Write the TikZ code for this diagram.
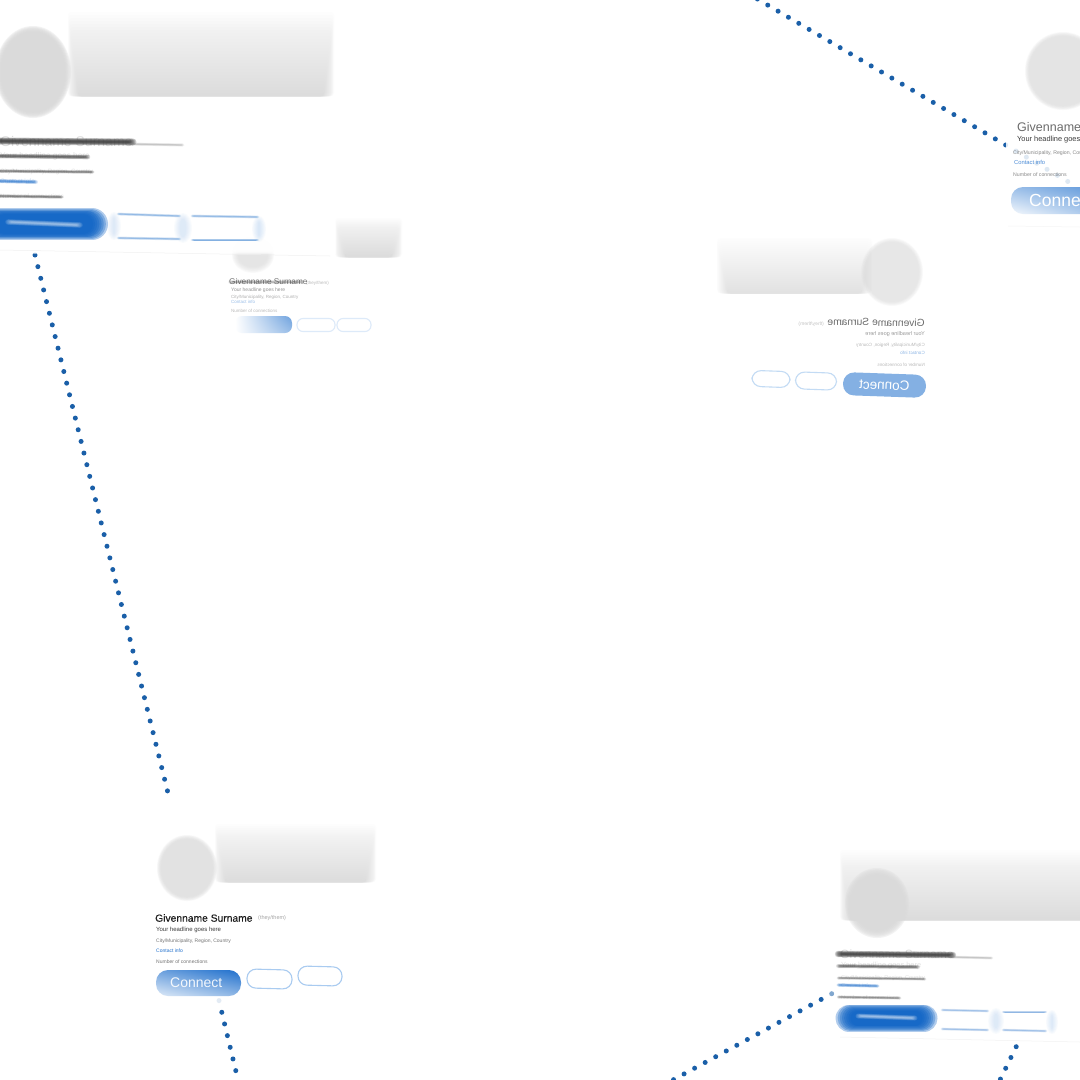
\documentclass[tikz,border=0pt]{standalone}
\usepackage{fontspec}
\usepackage{graphicx}
\usetikzlibrary{shadings}
\setmainfont{Liberation Sans}
\definecolor{dotblue}{HTML}{1A5FA8}
\definecolor{linkblue}{HTML}{1F6FCC}
\definecolor{deepblue}{HTML}{0E63C6}
\definecolor{palegrey}{HTML}{DADADA}
\definecolor{inktext}{HTML}{3A3A3A}
\definecolor{outlineblue}{HTML}{A9CBF0}
\tikzset{
  dotline/.style={line width=5pt,line cap=round,color=dotblue,dash pattern=on 0pt off 12pt},
  outlinebtn/.style={draw=outlineblue,line width=1.1pt,fill=white,rounded corners=9pt,inner sep=0pt},
  flatbtn/.style={fill=#1,rounded corners=11pt,inner sep=0pt,text=white},
  cardtext/.style={anchor=west,inner sep=0pt,text=inktext},
}
\newcommand{\fs}[1]{\fontsize{#1}{#1}\selectfont}
% soft round-capped line: x1 y1 x2 y2 width blur colour layer-opacity
\newcommand{\softline}[8]{%
  \foreach \k in {0,...,7}{%
    \pgfmathsetmacro{\wd}{max(0.2,#5+#6*(1-2*\k/7))}%
    \pgfmathsetmacro{\ins}{#6*(\k/7)*1.5}%
    \draw[line cap=round,line width=\wd pt,color=#7,opacity=#8] (#1+\ins,#2) -- (#3-\ins,#4);
  }}
% soft ellipse: x y rx ry blur colour layer-opacity
\newcommand{\softdisk}[7]{%
  \foreach \k in {0,...,7}{%
    \pgfmathsetmacro{\dd}{#5*(1-2*\k/7)}%
    \fill[color=#6,opacity=#7] (#1,#2) ellipse [x radius=#3+\dd,y radius=#4+\dd];
  }}
% banner: grows denser to a crisp lower edge: x1 y1 x2 y2 colour layer-opacity
\newcommand{\softbanner}[6]{%
  \foreach \k in {0,...,27}{%
    \pgfmathsetmacro{\tp}{#2+(#4-#2)*\k/28}%
    \pgfmathsetmacro{\ix}{\k*0.4}%
    \fill[color=#5,opacity=#6,rounded corners=3pt] (#1+\ix,\tp) rectangle (#3-\ix,#4);
  }}
% faint card body with soft edges: x1 y1 x2 y2 colour layer-opacity
\newcommand{\softcard}[6]{%
  \foreach \k in {0,...,5}{%
    \fill[color=#5,opacity=#6,rounded corners=4pt] (#1-4+\k*1.6,#2-4+\k*1.6) rectangle (#3+4-\k*1.6,#4+4-\k*1.6);
  }}
\begin{document}
\begin{tikzpicture}[x=1pt,y=-1pt]
\useasboundingbox (0,0) rectangle (1080,1080);
\fill[white] (0,0) rectangle (1080,1080);

% connector anchors
\coordinate (l1a) at (35,255);
\coordinate (l1b) at (168,793);
\coordinate (l2a) at (757.4,-1);
\coordinate (l2b) at (1072,184);
\coordinate (l3a) at (219,1000.6);
\coordinate (l3b) at (238.5,1082);
\coordinate (l4a) at (831.7,993.7);
\coordinate (l4b) at (671,1081);
\coordinate (l5a) at (1016.2,1046.7);
\coordinate (l5b) at (999,1082);
\draw[dotline] (l1a) -- (l1b);
\draw[dotline] (l2a) -- (l2b);
\draw[dotline] (l3a) -- (l3b);
\draw[dotline] (l4a) -- (l4b);
\draw[dotline] (l5a) -- (l5b);
% the connector ends melt into the cards
\fill[white,opacity=.88] (l3a) circle (3.4pt);
\fill[white,opacity=.45] (l4a) circle (3.4pt);

% ---- card B (behind A)
\softcard{222}{195}{414}{340}{black}{0.0015}
\softbanner{335}{218}{402}{257}{palegrey}{0.045}
\softdisk{253}{255}{18}{15}{3}{palegrey}{0.12}
\node[cardtext,opacity=.7,font=\fs{8.3}] (bname) at (229,282) {Givenname Surname};
\softline{230}{282}{302}{282}{2.2}{1.4}{inktext}{0.05}
\node[cardtext,opacity=.35,font=\fs{4.5}] (bpro) at (306,283) {(they/them)};
\node[cardtext,opacity=.55,font=\fs{5}] (bhead) at (231,290) {Your headline goes here};
\node[cardtext,opacity=.4,font=\fs{4.5}] (bcity) at (231,297) {City/Municipality, Region, Country};
\node[cardtext,text=linkblue,opacity=.45,font=\fs{4.5}] (binfo) at (231,302) {Contact info};
\node[cardtext,opacity=.35,font=\fs{4.5}] (bconn) at (231,311) {Number of connections};
\shade[rounded corners=7pt,upper left=white,lower left=white,upper right=linkblue!65,lower right=linkblue!45] (235,316) rectangle (292,333);
\node[outlinebtn,draw=outlineblue!40,rounded corners=6pt,minimum width=38pt,minimum height=13pt] (bb1) at (316,325) {};
\node[outlinebtn,draw=outlineblue!40,rounded corners=6pt,minimum width=34pt,minimum height=13pt] (bb2) at (354,325) {};

% ---- card A (top left)
\foreach \k in {0,...,5}{\fill[white,opacity=.55] (-5,0) rectangle (336-\k,254-\k);}
\draw[black!6,line width=.5pt] (0,250) -- (330,256);
\softcard{82}{100}{322}{245}{black}{0.001}
\softbanner{68}{12}{334}{96}{palegrey}{0.043}
\softdisk{33}{72}{35}{43}{3}{palegrey}{0.3}
\node[cardtext,opacity=.18,font=\fs{14}] (aname) at (0,141) {Givenname Surname};
\softline{-4}{141}{133}{142}{4}{3}{inktext}{0.24}
\softline{128}{144}{183}{145}{1.5}{1.5}{gray}{0.08}
\node[cardtext,opacity=.15,font=\fs{8.3}] (ahead) at (0,156) {Your headline goes here};
\softline{-4}{156}{88}{157}{2.6}{2}{inktext}{0.16}
\node[cardtext,opacity=.15,font=\fs{6.2}] (acity) at (0,171.5) {City/Municipality, Region, Country};
\softline{-4}{171}{93}{172}{1.8}{1.6}{inktext}{0.12}
\node[cardtext,text=linkblue,opacity=.2,font=\fs{6.5}] (ainfo) at (0,181.5) {Contact info};
\softline{-4}{181}{36}{182}{2.2}{1.8}{linkblue}{0.15}
\node[cardtext,opacity=.15,font=\fs{6.2}] (aconn) at (0,196.5) {Number of connections};
\softline{-4}{196}{62}{197}{1.8}{1.6}{inktext}{0.12}
\softline{-4}{224}{92}{224}{26}{6}{deepblue}{0.32}
\softline{8}{222}{80}{225}{3}{2.6}{white}{0.1}
\softline{118}{214}{180}{216}{1.3}{1.5}{linkblue}{0.09}
\softline{118}{238}{180}{239}{1.3}{1.5}{linkblue}{0.09}
\softline{192}{216}{258}{217}{1.3}{1.5}{linkblue}{0.09}
\softline{192}{240}{258}{240}{1.3}{1.5}{linkblue}{0.09}
\softdisk{114}{226}{4}{11}{3}{outlineblue}{0.05}
\softdisk{183}{228}{6}{12}{3}{outlineblue}{0.05}
\softdisk{259}{229}{4}{10}{3}{outlineblue}{0.06}

% ---- card C (mirrored, right middle)
\softbanner{717}{238}{872}{293}{palegrey}{0.028}
\softdisk{892}{272}{29}{32}{2}{palegrey}{0.1}
\node[anchor=east,inner sep=0pt,text=inktext,opacity=.75,rotate=-1,font=\fs{10.3}] (cname) at (925,323) {\reflectbox{Givenname Surname}};
\node[anchor=east,inner sep=0pt,text=inktext,opacity=.3,font=\fs{5}] (cpro) at (824,324) {\reflectbox{(they/them)}};
\node[anchor=east,inner sep=0pt,text=inktext,opacity=.5,font=\fs{5.5}] (chead) at (925,334) {\reflectbox{Your headline goes here}};
\node[anchor=east,inner sep=0pt,text=inktext,opacity=.35,font=\fs{4.6}] (ccity) at (925,345) {\reflectbox{City/Municipality, Region, Country}};
\node[anchor=east,inner sep=0pt,text=linkblue,opacity=.5,font=\fs{4.6}] (cinfo) at (925,353) {\reflectbox{Contact info}};
\node[anchor=east,inner sep=0pt,text=inktext,opacity=.35,font=\fs{4.6}] (cconn) at (925,365) {\reflectbox{Number of connections}};
\node[flatbtn=linkblue!55,minimum width=83pt,minimum height=23pt,rotate=-2,font=\fs{13.5}] (cbtn) at (884.5,385) {\reflectbox{Connect}};
\node[outlinebtn,draw=outlineblue!70,minimum width=38pt,minimum height=16pt,rotate=-2] (cb1) at (771,379) {};
\node[outlinebtn,draw=outlineblue!70,minimum width=41pt,minimum height=17pt,rotate=-2] (cb2) at (816,381) {};

% ---- card D (top right)
\fill[white,opacity=.86] (1006,18) rectangle (1080,226);
\draw[black!4,line width=.5pt] (1008,226) -- (1080,227);
\softdisk{1063}{71}{36}{37}{2}{palegrey}{0.13}
\node[cardtext,opacity=.75,font=\fs{12.5}] (dname) at (1017,127) {Givenname Surname};
\node[cardtext,font=\fs{7.4}] (dhead) at (1017,140) {Your headline goes here};
\node[cardtext,opacity=.6,font=\fs{5.2}] (dcity) at (1013,153) {City/Municipality, Region, Country};
\node[cardtext,text=linkblue,opacity=.8,font=\fs{5.8}] (dinfo) at (1014,162) {Contact info};
\node[cardtext,opacity=.6,font=\fs{5.2}] (dconn) at (1013,175) {Number of connections};
\shade[rounded corners=12pt,upper left=linkblue!45,upper right=linkblue!70,lower left=linkblue!5,lower right=linkblue!40] (1011,187) rectangle (1095,214);
\node[cardtext,text=white,font=\fs{17.5}] (dbtn) at (1029,200) {Connect};

% ---- card E (bottom left)
\softbanner{215}{824}{376}{882}{palegrey}{0.038}
\softdisk{187}{868}{28}{31}{2}{palegrey}{0.15}
\node[cardtext,text=black,font=\fs{10.3}\addfontfeature{FakeBold=0.6},opacity=.85] (ename) at (155,918) {Givenname Surname};
\node[cardtext,opacity=.45,font=\fs{5.5}] (epro) at (258,918) {(they/them)};
\node[cardtext,font=\fs{6}] (ehead) at (156,930) {Your headline goes here};
\node[cardtext,opacity=.7,font=\fs{5}] (ecity) at (156,941.5) {City/Municipality, Region, Country};
\node[cardtext,text=linkblue,font=\fs{5}] (einfo) at (156,950.5) {Contact info};
\node[cardtext,opacity=.7,font=\fs{5}] (econn) at (156,961.5) {Number of connections};
\shade[rounded corners=12pt,upper left=linkblue!65,upper right=linkblue,lower left=linkblue!15,lower right=linkblue!50] (156,970) rectangle (241,996);
\node[cardtext,text=white,font=\fs{14},opacity=.9] (ebtn) at (170,983) {Connect};
\node[outlinebtn,minimum width=45pt,minimum height=19pt,rotate=-1.5] (eb1) at (269.5,979) {};
\node[outlinebtn,minimum width=44pt,minimum height=19pt,rotate=-1.5] (eb2) at (320,976) {};

% ---- card F (bottom right)
\softcard{838}{838}{1084}{1040}{white}{0.6}
\draw[black!5,line width=.5pt] (840,1037) -- (1080,1042);
\softbanner{840}{850}{1100}{920}{palegrey}{0.044}
\softdisk{877}{903}{28}{31}{4}{palegrey}{0.3}
\node[cardtext,opacity=.18,font=\fs{12}] (fname) at (840,954) {Givenname Surname};
\softline{838}{954}{953}{955}{3.6}{2.8}{inktext}{0.24}
\softline{950}{957}{992}{958}{1.4}{1.4}{gray}{0.08}
\node[cardtext,opacity=.15,font=\fs{7.4}] (fhead) at (841,966) {Your headline goes here};
\softline{838}{966}{918}{967}{2.2}{1.8}{inktext}{0.14}
\node[cardtext,opacity=.15,font=\fs{5.6}] (fcity) at (841,978) {City/Municipality, Region, Country};
\softline{838}{978}{925}{979}{1.5}{1.5}{inktext}{0.1}
\node[cardtext,text=linkblue,opacity=.2,font=\fs{5.6}] (finfo) at (841,985.5) {Contact info};
\softline{838}{985}{878}{986}{1.8}{1.6}{linkblue}{0.14}
\node[cardtext,opacity=.15,font=\fs{5.6}] (fconn) at (841,997) {Number of connections};
\softline{838}{997}{900}{998}{1.5}{1.5}{inktext}{0.1}
\softline{849}{1018}{924}{1018}{21}{6}{deepblue}{0.32}
\softline{858}{1016}{915}{1018}{2.6}{2.4}{white}{0.11}
\softline{942}{1010}{988}{1011}{1.2}{1.4}{linkblue}{0.08}
\softline{942}{1029}{988}{1030}{1.2}{1.4}{linkblue}{0.08}
\softline{1003}{1012}{1046}{1012}{1.2}{1.4}{linkblue}{0.08}
\softline{1003}{1030}{1046}{1031}{1.2}{1.4}{linkblue}{0.08}
\softdisk{996}{1021}{5}{10}{3}{outlineblue}{0.05}
\softdisk{1052}{1022}{3}{9}{3}{outlineblue}{0.06}
\end{tikzpicture}
\end{document}
